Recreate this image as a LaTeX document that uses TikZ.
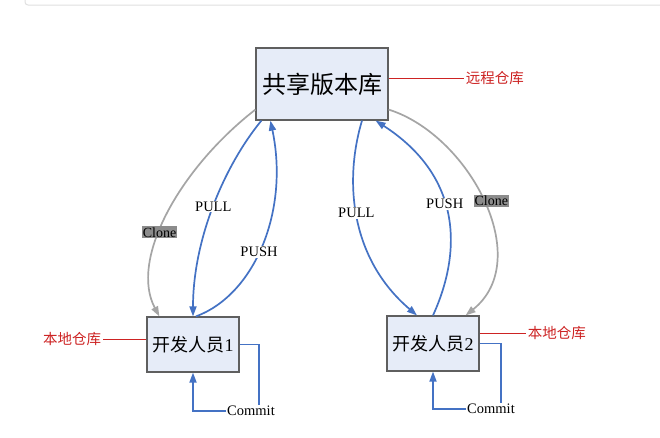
\documentclass[tikz,border=0pt]{standalone}
\usepackage{fontspec}
\setmainfont{Liberation Serif}
\newfontfamily\cjk{Noto Sans CJK SC}
\usetikzlibrary{arrows.meta,positioning,calc}

\definecolor{repofill}{RGB}{230,236,248}
\definecolor{boxline}{RGB}{95,95,95}
\definecolor{gitblue}{RGB}{68,114,196}
\definecolor{clonegray}{RGB}{165,165,165}
\definecolor{clonefill}{RGB}{140,140,140}
\definecolor{notered}{RGB}{205,35,35}

\begin{document}
\begin{tikzpicture}[x=1pt, y=-1pt, node distance=1cm,
    repobox/.style={rectangle, draw=boxline, fill=repofill, line width=1.2pt, inner sep=0pt},
    gitline/.style={draw=gitblue, line width=1.7pt, -{Triangle[length=10pt,width=7pt]}},
    cloneline/.style={draw=clonegray, line width=1.7pt, -{Triangle[length=10pt,width=7pt]}},
    oplabel/.style={fill=white, inner sep=1pt, font=\fontsize{14.5}{16}\selectfont},
    clonelabel/.style={fill=clonefill, inner sep=1pt, font=\fontsize{14}{16}\selectfont},
    note/.style={text=notered, inner sep=2pt, font=\cjk\fontsize{14.5}{16}\selectfont},
    noteline/.style={draw=notered, line width=1pt}]
    \useasboundingbox (0,0) rectangle (660,437);
    \fill[white] (0,0) rectangle (660,437);
    \draw[black!12, line width=1pt, rounded corners=3pt] (25,0) |- (660,5);

    % Repositories
    \node (repo) [repobox, minimum width=132pt, minimum height=72pt, font=\cjk\fontsize{24}{26}\selectfont] at (322,84) {共享版本库};
    \node (dev1) [repobox, minimum width=92pt, minimum height=55pt, font=\fontsize{18}{20}\selectfont] at (193,344.5) {{\cjk 开发人员}1};
    \node (dev2) [repobox, minimum width=92pt, minimum height=55pt, font=\fontsize{18}{20}\selectfont] at (433,343.5) {{\cjk 开发人员}2};

    % Notes
    \node (remote) [note, right=75pt of repo, yshift=6pt] {远程仓库};
    \node (local1) [note, left=43pt of dev1, yshift=5pt] {本地仓库};
    \node (local2) [note, right=46pt of dev2, yshift=10pt] {本地仓库};
    \draw [noteline] (remote.west) -- (remote.west -| repo.east);
    \draw [noteline] (local1.east) -- (local1.east -| dev1.west);
    \draw [noteline] (local2.west) -- (local2.west -| dev2.east);

    % Developer 1
    \draw [cloneline] (repo.201) .. controls +(-77,60) and +(-30,-56) .. ([xshift=13pt]dev1.north west) node (clone1) [clonelabel, pos=0.58] {Clone};
    \draw [gitline] ([xshift=6pt]repo.south west) .. controls +(-37,45) and +(0,-77) .. (dev1.north) node (pull1) [oplabel, pos=0.5] {PULL};
    \draw [gitline] ([xshift=3pt]dev1.north) .. controls +(59,-22) and +(19,90) .. ([xshift=15pt]repo.south west) node (push1) [oplabel, pos=0.46] {PUSH};

    % Developer 2
    \draw [gitline] ([xshift=40pt]repo.south) .. controls +(-18,60) and +(-67,-57) .. ([xshift=-16pt]dev2.north) node (pull2) [oplabel, pos=0.47] {PULL};
    \draw [gitline] (dev2.north) .. controls +(30,-66) and +(85,55) .. ([xshift=-13pt]repo.south east) node (push2) [oplabel, pos=0.55] {PUSH};
    \draw [cloneline] (repo.339) .. controls +(80,25) and +(70,-56) .. ([xshift=-14pt]dev2.north east) node (clone2) [clonelabel, pos=0.5, xshift=8pt] {Clone};

    % Commits
    \node (commit1) [inner sep=1pt, font=\fontsize{14.5}{16}\selectfont] at (251,411) {Commit};
    \node (commit2) [inner sep=1pt, font=\fontsize{14.5}{16}\selectfont] at (491,409) {Commit};
    \draw [draw=gitblue, line width=1.7pt] (dev1.east) -| ([xshift=8pt]commit1.north);
    \draw [gitline] (commit1.west) -| (dev1.south);
    \draw [draw=gitblue, line width=1.7pt] (dev2.east) -| ([xshift=10pt]commit2.north);
    \draw [gitline] (commit2.west) -| (dev2.south);
\end{tikzpicture}
\end{document}
